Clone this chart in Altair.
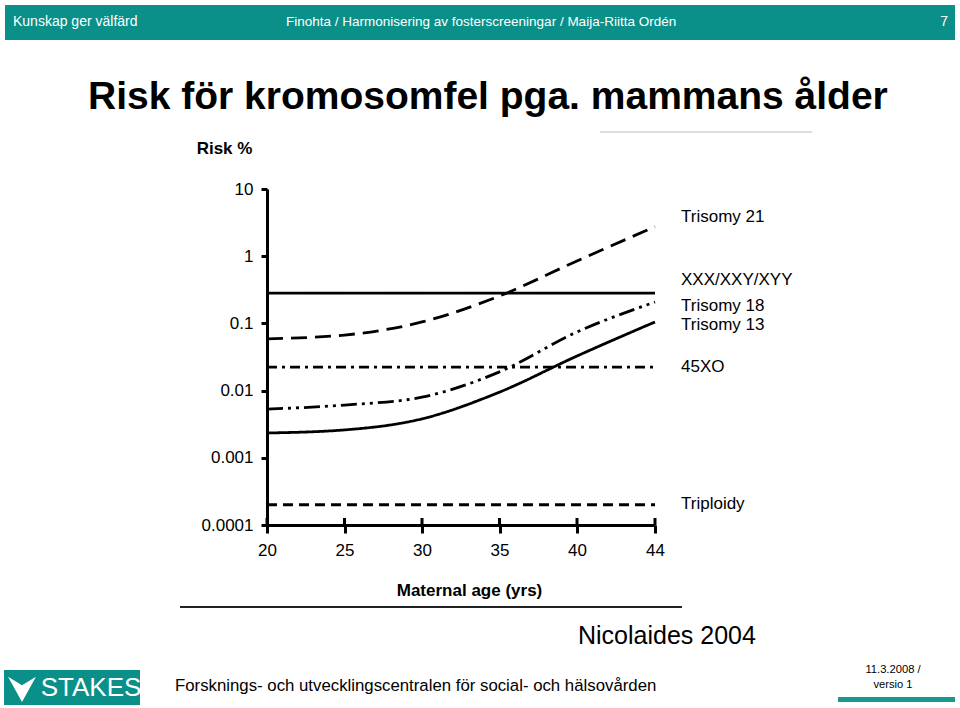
import altair as alt
import pandas as pd

# ---------------- data ----------------
ages = [20, 25, 30, 35, 40, 44]
x_tick_values = [20, 25, 30, 35, 40, 44]
y_tick_values = [10, 1, 0.1, 0.01, 0.001, 0.0001]

series_names = ["Trisomy 21", "XXX/XXY/XYY", "Trisomy 18", "Trisomy 13", "45XO", "Triploidy"]
trisomy21 = [0.059, 0.067, 0.105, 0.256, 0.85, 2.75]
sex_chrom = [0.283, 0.283, 0.283, 0.283, 0.283, 0.283]
trisomy18 = [0.0053, 0.0061, 0.0080, 0.019, 0.0745, 0.208]
trisomy13 = [0.00234, 0.0026, 0.0038, 0.0095, 0.0327, 0.105]
xo45 = [0.0224, 0.0224, 0.0224, 0.0224, 0.0224, 0.0224]
triploidy = [0.0002, 0.0002, 0.0002, 0.0002, 0.0002, 0.0002]
series_values = [trisomy21, sex_chrom, trisomy18, trisomy13, xo45, triploidy]

# ---------------- layout / style (not data) ----------------
PL, PT, PW, PH = 267, 189, 388, 336      # plot area in page pixels
CW, CH = 960, 708
TEAL = "#0a8f89"
SANS = "Liberation Sans, Arial"

dash_styles = {
    "Trisomy 21": [16, 8],
    "XXX/XXY/XYY": [1, 0],
    "Trisomy 18": [16, 5, 3, 5, 3, 5],
    "Trisomy 13": [1, 0],
    "45XO": [10, 5, 3, 5],
    "Triploidy": [10, 6],
}
label_py = {"Trisomy 21": 217, "XXX/XXY/XYY": 280, "Trisomy 18": 306,
            "Trisomy 13": 325, "45XO": 367, "Triploidy": 504}


def px(v):
    return alt.value(v - PL)


def py(v):
    return alt.value(v - PT)


one = alt.Data(values=[{"k": 1}])

x_enc = alt.X(
    "age:Q",
    scale=alt.Scale(domain=[20, 40, 44], range=[0, 310, 388], nice=False, zero=False),
    axis=alt.Axis(
        values=x_tick_values, grid=False, tickSize=8, tickWidth=3, domainWidth=3,
        domainColor="black", tickColor="black", labelColor="black",
        labelFont=SANS, labelFontSize=17, labelPadding=9, labelFlush=False,
        title="Maternal age (yrs)", titleFont=SANS, titleFontSize=17,
        titleFontWeight="bold", titleColor="black", titleX=202, titleY=65,
        titleAlign="center", titleBaseline="middle",
    ),
)
y_enc = alt.Y(
    "risk:Q",
    scale=alt.Scale(type="log", domain=[0.0001, 10], nice=False),
    axis=alt.Axis(
        values=y_tick_values, format="~g", grid=False, tickSize=6, tickWidth=3,
        domainWidth=3, domainColor="black", tickColor="black", labelColor="black",
        labelFont=SANS, labelFontSize=17, labelPadding=8, labelFlush=False,
        title="Risk %", titleFont=SANS, titleFontSize=17, titleFontWeight="bold",
        titleColor="black", titleAngle=0, titleX=-43, titleY=-41,
        titleAlign="center", titleBaseline="middle",
    ),
)

layers = []

# ---- slide header ----
layers.append(alt.Chart(one).mark_rect(color=TEAL).encode(
    x=px(5), x2=px(955), y=py(5), y2=py(40)))
layers.append(alt.Chart(one).mark_text(text="Kunskap ger välfärd", font=SANS, fontSize=14,
                                       color="white", align="left", baseline="middle").encode(x=px(13), y=py(22)))
layers.append(alt.Chart(one).mark_text(text="Finohta / Harmonisering av fosterscreeningar / Maija-Riitta Ordén",
                                       font=SANS, fontSize=13.5, color="white", align="left",
                                       baseline="middle").encode(x=px(286), y=py(22)))
layers.append(alt.Chart(one).mark_text(text="7", font=SANS, fontSize=14, color="white",
                                       align="right", baseline="middle").encode(x=px(948), y=py(22)))

# ---- title ----
layers.append(alt.Chart(one).mark_text(text="Risk för kromosomfel pga. mammans ålder", font=SANS,
                                       fontSize=39, fontWeight="bold", color="black", align="left",
                                       baseline="middle").encode(x=px(88), y=py(97)))

# ---- figure frame lines ----
layers.append(alt.Chart(one).mark_rule(color="#bbbbbb", strokeWidth=1).encode(
    x=px(600), x2=px(812), y=py(132)))
layers.append(alt.Chart(one).mark_rule(color="#222222", strokeWidth=2).encode(
    x=px(180), x2=px(682), y=py(607)))

# ---- data lines ----
for name, vals in zip(series_names, series_values):
    df = pd.DataFrame({"age": ages, "risk": vals, "series": name})
    layers.append(alt.Chart(df).mark_line(color="black", strokeWidth=2.8,
                                          strokeDash=dash_styles[name],
                                          interpolate="monotone").encode(x=x_enc, y=y_enc))

# inward half of x ticks
tick_df = pd.DataFrame({"age": x_tick_values})
layers.append(alt.Chart(tick_df).mark_rule(color="black", strokeWidth=3).encode(
    x=x_enc, y=alt.value(PH - 7), y2=alt.value(PH)))

# series labels
for name in series_names:
    layers.append(alt.Chart(one).mark_text(text=name, font=SANS, fontSize=17, color="black",
                                           align="left", baseline="middle").encode(
        x=px(681), y=py(label_py[name])))

# ---- source ----
layers.append(alt.Chart(one).mark_text(text="Nicolaides 2004", font=SANS, fontSize=25, color="black",
                                       align="left", baseline="middle").encode(x=px(578), y=py(636)))

# ---- footer ----
layers.append(alt.Chart(one).mark_rect(color=TEAL).encode(x=px(4), x2=px(140), y=py(670), y2=py(705)))
layers.append(alt.Chart(one).mark_point(shape="M -1 -0.8 L 0 -0.2 L 1 -0.8 L 0 1 Z", filled=True,
                                        color="white", opacity=1, size=780).encode(x=px(22), y=py(688)))
layers.append(alt.Chart(one).mark_text(text="STAKES", font=SANS, fontSize=26, color="white",
                                       align="center", baseline="middle").encode(x=px(91), y=py(688)))
layers.append(alt.Chart(one).mark_text(text="Forsknings- och utvecklingscentralen för social- och hälsovården",
                                       font=SANS, fontSize=16.8, color="black", align="left",
                                       baseline="middle").encode(x=px(175), y=py(686)))
layers.append(alt.Chart(one).mark_text(text="11.3.2008 /", font=SANS, fontSize=11.2, color="black",
                                       align="center", baseline="middle").encode(x=px(893), y=py(670)))
layers.append(alt.Chart(one).mark_text(text="versio 1", font=SANS, fontSize=11.2, color="black",
                                       align="center", baseline="middle").encode(x=px(893), y=py(685)))
layers.append(alt.Chart(one).mark_rect(color="#1a9a8c").encode(x=px(838), x2=px(955), y=py(697), y2=py(702)))

chart = alt.layer(*layers).properties(
    width=PW, height=PH,
    padding={"left": PL, "top": PT, "right": CW - PL - PW, "bottom": CH - PT - PH},
    autosize=alt.AutoSizeParams(type="none"),
    background="white",
).configure_view(stroke=None)

chart.save("out.html", embed_options={"renderer": "svg", "actions": False})
